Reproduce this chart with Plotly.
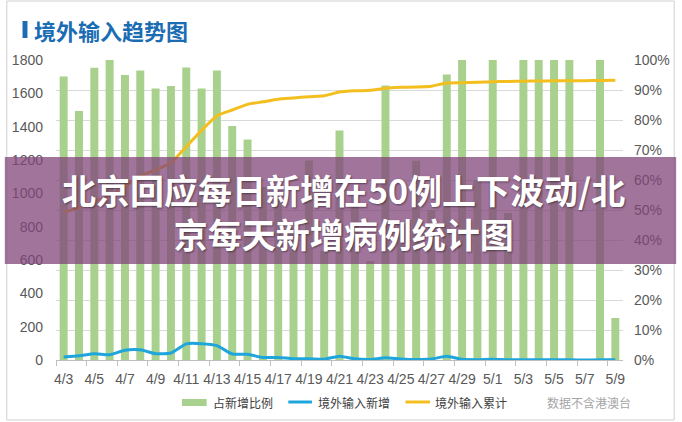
import plotly.graph_objects as go

dates = ["4/3","4/4","4/5","4/6","4/7","4/8","4/9","4/10","4/11","4/12","4/13","4/14",
         "4/15","4/16","4/17","4/18","4/19","4/20","4/21","4/22","4/23","4/24","4/25",
         "4/26","4/27","4/28","4/29","4/30","5/1","5/2","5/3","5/4","5/5","5/6","5/7",
         "5/8","5/9"]
share_pct = [94.5, 83, 97.4, 100, 95, 96.5, 90.5, 91.3, 97.5, 90.5, 96.5, 78,
             73.5, 57.7, 55.6, 43.8, 66.5, 36.4, 76.5, 54.5, 33, 91.5, 45.5,
             66.4, 50, 95.2, 100, 60, 100, 49, 100, 100, 100, 100, 0,
             100, 14]
imported_new = [18, 25, 38, 32, 59, 61, 38, 42, 97, 98, 86, 36,
                34, 15, 15, 8, 8, 5, 23, 7, 3, 13, 6,
                3, 6, 22, 4, 2, 4, 1, 2, 1, 1, 1, 0,
                1, 1]
imported_cum = [888, 913, 951, 983, 1042, 1103, 1141, 1183, 1280, 1378, 1464, 1500,
                1534, 1549, 1564, 1572, 1580, 1585, 1608, 1615, 1618, 1631, 1636,
                1638, 1643, 1662, 1664, 1666, 1670, 1671, 1673, 1674, 1675, 1676, 1676,
                1677, 1679]
left_ticks = list(range(0, 1801, 200))
right_ticks = list(range(0, 101, 10))

xi = list(range(len(dates)))
GREEN = "#a9d18e"
BLUE = "#1ea6dc"
YELLOW = "#f2bf1f"
TXT = "#595959"
FONT = "Liberation Sans, Noto Sans CJK SC, sans-serif"
CJK = "Noto Sans CJK SC, sans-serif"

fig = go.Figure()
fig.add_trace(go.Bar(x=xi, y=share_pct, name="占新增比例", marker_color=GREEN,
                     marker_line_width=0, yaxis="y", width=0.52))
fig.add_trace(go.Scatter(x=xi, y=imported_new, name="境外输入新增", mode="lines",
                         line=dict(color=BLUE, width=3, shape="spline", smoothing=0.6),
                         yaxis="y2"))
fig.add_trace(go.Scatter(x=xi, y=imported_cum, name="境外输入累计", mode="lines",
                         line=dict(color=YELLOW, width=3, shape="spline", smoothing=0.6),
                         yaxis="y2"))

W, H = 682, 422
L, R, T, B = 52, 54, 60, 62
pw, ph = W - L - R, H - T - B

def px(x):
    return (x - L) / pw

def py(y):
    return (H - B - y) / ph

fig.update_layout(
    width=W, height=H,
    margin=dict(l=L, r=R, t=T, b=B),
    paper_bgcolor="white", plot_bgcolor="white",
    showlegend=False,
    bargap=0.48,
    font=dict(family=FONT, color=TXT, size=14),
    xaxis=dict(range=[-0.5, len(dates) - 0.5], tickvals=xi[::2], ticktext=dates[::2],
               showgrid=False, zeroline=False, showline=True, linecolor="#bfbfbf",
               linewidth=1, ticks="", tickfont=dict(size=14, color=TXT),
               ticklabelstandoff=6,
               minor=dict(tick0=-0.5, dtick=2, ticks="outside", ticklen=5,
                          tickcolor="#bfbfbf", showgrid=False)),
    yaxis=dict(side="right", range=[0, 100], tickvals=right_ticks,
               ticktext=[f"{v}%" for v in right_ticks], showgrid=True,
               gridcolor="#d9d9d9", gridwidth=1, zeroline=False, showline=False,
               tickfont=dict(size=14, color=TXT), ticklabelstandoff=10),
    yaxis2=dict(side="left", overlaying="y", range=[0, 1800], tickvals=left_ticks,
                showgrid=False, zeroline=False, showline=False,
                tickfont=dict(size=14, color=TXT), ticklabelstandoff=12),
)

shapes = []
annotations = []
# outer border
shapes.append(dict(type="rect", xref="paper", yref="paper", x0=px(2), x1=px(W - 2),
                   y0=py(H - 2), y1=py(1), line=dict(color="#d0d0d0", width=1)))
# title bar
shapes.append(dict(type="rect", xref="paper", yref="paper", x0=px(18), x1=px(23),
                   y0=py(38), y1=py(21), fillcolor="#1b6db3", line=dict(width=0)))
annotations.append(dict(text="<b>境外输入趋势图</b>", xref="paper", yref="paper",
                        x=px(28), y=py(29.5), xanchor="left", yanchor="middle",
                        showarrow=False, font=dict(family=CJK, size=22, color="#1b6db3")))
# legend
shapes.append(dict(type="rect", xref="paper", yref="paper", x0=px(180), x1=px(205),
                   y0=py(406), y1=py(399), fillcolor=GREEN, line=dict(width=0)))
shapes.append(dict(type="line", xref="paper", yref="paper", x0=px(288), x1=px(312),
                   y0=py(402), y1=py(402), line=dict(color=BLUE, width=3)))
shapes.append(dict(type="line", xref="paper", yref="paper", x0=px(407), x1=px(432),
                   y0=py(402), y1=py(402), line=dict(color=YELLOW, width=3)))
for xx, t in [(209, "占新增比例"), (316, "境外输入新增"), (435, "境外输入累计")]:
    annotations.append(dict(text=t, xref="paper", yref="paper", x=px(xx), y=py(402),
                            xanchor="left", yanchor="middle", showarrow=False,
                            font=dict(family=CJK, size=12, color="#404040")))
annotations.append(dict(text="数据不含港澳台", xref="paper", yref="paper", x=px(549),
                        y=py(402), xanchor="left", yanchor="middle", showarrow=False,
                        font=dict(family=CJK, size=12, color="#a6a6a6")))
# banner overlay
shapes.append(dict(type="rect", xref="paper", yref="paper", x0=px(0), x1=px(W),
                   y0=py(264), y1=py(157), fillcolor="rgba(128,67,121,0.74)",
                   line=dict(width=0), layer="above"))
annotations.append(dict(text="<b>北京回应每日新增在50例上下波动/北</b><br><b>京每天新增病例统计图</b>",
                        xref="paper", yref="paper", x=px(344), y=py(212),
                        xanchor="center", yanchor="middle", showarrow=False,
                        align="center",
                        font=dict(family=CJK, size=34, color="white",
                                  shadow="1px 1px 2px rgba(0,0,0,0.45)")))

fig.update_layout(shapes=shapes, annotations=annotations)
fig.write_html("out.html", config={"displayModeBar": False},
               post_script="document.body.style.margin='0';")
